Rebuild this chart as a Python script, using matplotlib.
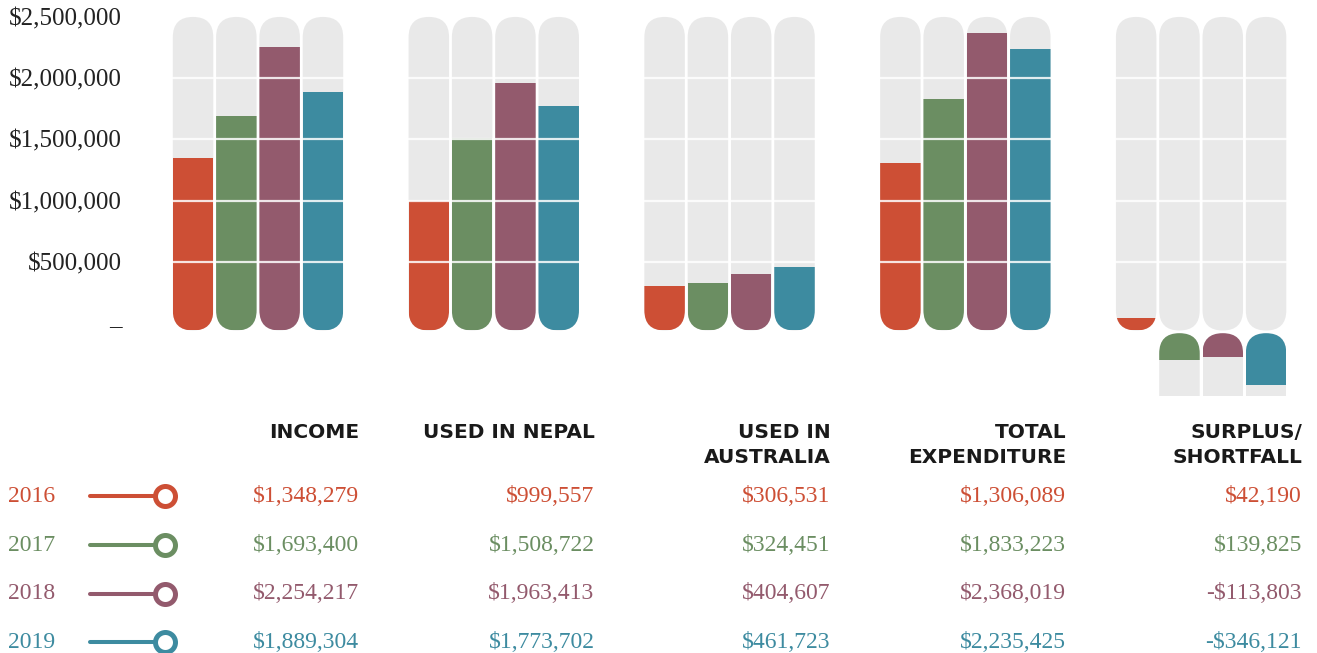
import matplotlib.pyplot as plt
from matplotlib.patches import FancyBboxPatch

YEARS = ['2016', '2017', '2018', '2019']
COLORS = ['#cd4f35', '#6b8e62', '#935a6d', '#3d8ba0']
CATEGORIES = ['INCOME', 'USED IN NEPAL', 'USED IN\nAUSTRALIA',
              'TOTAL\nEXPENDITURE', 'SURPLUS/\nSHORTFALL']

INCOME = [1348279, 1693400, 2254217, 1889304]
USED_NEPAL = [999557, 1508722, 1963413, 1773702]
USED_AUSTRALIA = [306531, 324451, 404607, 461723]
TOTAL_EXPENDITURE = [1306089, 1833223, 2368019, 2235425]
SURPLUS = [42190, -139825, -113803, -346121]
# as printed in the table (2017 is printed without the minus sign)
SURPLUS_TEXT = ['$42,190', '$139,825', '-$113,803', '-$346,121']

TICKS = [0, 500000, 1000000, 1500000, 2000000, 2500000]
TICK_LABELS = ['–', '$500,000', '$1,000,000', '$1,500,000', '$2,000,000', '$2,500,000']
GRID_LEVELS = [500000, 1000000, 1500000, 2000000]

SERIES = [INCOME, USED_NEPAL, USED_AUSTRALIA, TOTAL_EXPENDITURE, SURPLUS]

# layout of the pills (x unit = one bar step)
GRAY = '#e9e9e9'
W = 0.935
GROUP_STEP = 5.445
PILL_TOP = 2500000
PILL_BOTTOM = -60000
LOWER_TOP = -82000
LOWER_BOTTOM = -596000
NEG_BASE = -160000
XMIN, XMAX = -1, 25.95
YMIN, YMAX = -650000, 2620000

SERIF = 'Liberation Serif'

fig = plt.figure(figsize=(13.17, 6.53), dpi=100)
AX_LEFT, AX_WIDTH = 0.1137, 0.8861
ax = fig.add_axes([AX_LEFT, 0.3832, AX_WIDTH, 0.6134])
ax.set_xlim(XMIN, XMAX)
ax.set_ylim(YMIN, YMAX)
for s in ax.spines.values():
    s.set_visible(False)

bbox = ax.get_window_extent()
aspect = ((YMAX - YMIN) / bbox.height) / ((XMAX - XMIN) / bbox.width)


def pill(x, bottom, top, **kw):
    return FancyBboxPatch((x - W / 2, bottom), W, top - bottom,
                          boxstyle=f'round,pad=0,rounding_size={W / 2}',
                          mutation_aspect=aspect, lw=0,
                          transform=ax.transData, **kw)


for g, values in enumerate(SERIES):
    for j, v in enumerate(values):
        x = g * GROUP_STEP + j
        bg = pill(x, PILL_BOTTOM, PILL_TOP, fc=GRAY, ec='none')
        ax.add_patch(bg)
        if v > 0:
            b = ax.bar([x], [v - PILL_BOTTOM], bottom=PILL_BOTTOM, width=W,
                       color=COLORS[j], lw=0)
            b[0].set_clip_path(bg)
        else:
            clip = pill(x, -1500000, LOWER_TOP, fc='none')
            gb = ax.bar([x], [LOWER_TOP - LOWER_BOTTOM], bottom=LOWER_BOTTOM,
                        width=W, color=GRAY, lw=0)
            gb[0].set_clip_path(clip)
            cb = ax.bar([x], [NEG_BASE + v - LOWER_TOP], bottom=LOWER_TOP,
                        width=W, color=COLORS[j], lw=0)
            cb[0].set_clip_path(clip)

ax.hlines(GRID_LEVELS, XMIN, XMAX, colors='white', lw=1.6, alpha=0.85, zorder=5)

ax.set_xticks([])
ax.set_yticks(TICKS, TICK_LABELS)
ax.tick_params(axis='y', length=0, pad=20, labelsize=18, labelcolor='#222222')
for lab in ax.get_yticklabels():
    lab.set_fontfamily(SERIF)

# table below the chart
tab = fig.add_axes([AX_LEFT, 0, AX_WIDTH, 0.3798], sharex=ax)
tab.set_ylim(3.22, -1.88)
tab.axis('off')

HEADER_ROWS = [-1.32, -0.81]
for g, cat in enumerate(CATEGORIES):
    xr = g * GROUP_STEP + 3.83
    for k, line in enumerate(cat.split('\n')):
        tab.text(xr, HEADER_ROWS[k], line, ha='right', va='center',
                 fontsize=14.5, fontweight='bold', family='DejaVu Sans',
                 color='#1a1a1a', clip_on=False)

for i, year in enumerate(YEARS):
    c = COLORS[i]
    tab.text(-4.27, i, year, color=c, ha='left', va='center',
             fontsize=17, family=SERIF, clip_on=False)
    tab.plot([-2.38, -0.65], [i, i], color=c, lw=2.9,
             solid_capstyle='round', clip_on=False)
    tab.plot([-0.65], [i], marker='o', ms=14.4, mfc='white', mec=c,
             mew=3.6, clip_on=False)
    for g, values in enumerate(SERIES):
        xr = g * GROUP_STEP + 3.83
        txt = SURPLUS_TEXT[i] if values is SURPLUS else f'${values[i]:,}'
        tab.text(xr, i, txt, color=c, ha='right', va='center',
                 fontsize=17, family=SERIF, clip_on=False)

fig.savefig('out.png', dpi=100)
